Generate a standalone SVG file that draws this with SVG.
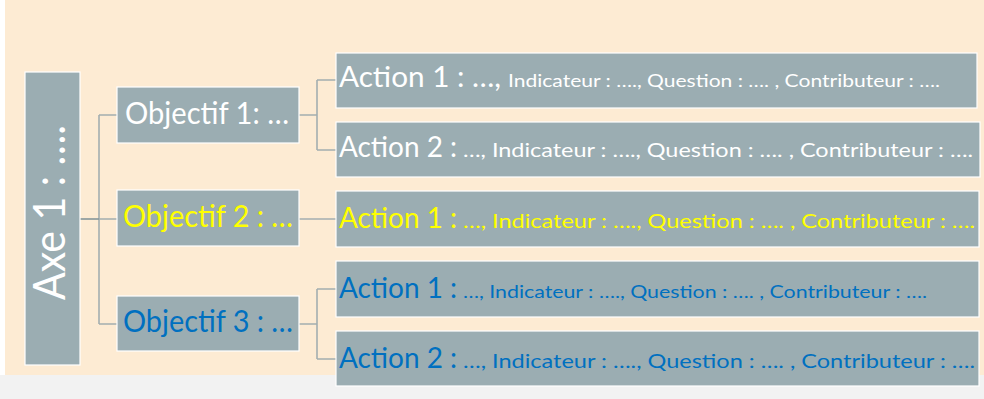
<svg xmlns="http://www.w3.org/2000/svg" width="984" height="399" viewBox="0 0 984 399">
<style>
.box{fill:#9BADB2;stroke:#FFFFFF;stroke-width:1.2}
.ln{fill:none;stroke:#A3AEB0;stroke-width:1.6}
.t{font-family:Lato,"Open Sans","Liberation Sans",sans-serif;}
.w{fill:#FFFFFF}
.y{fill:#FFFF00}
.b{fill:#0070C0}
</style>
<rect x="0" y="0" width="984" height="399" fill="#FFFFFF"/>
<rect x="5" y="0" width="979" height="375" fill="#FDEBD3"/>
<rect x="0" y="375" width="984" height="24" fill="#F2F2F2"/>
<g id="connectors">
<path class="ln" d="M99 115 V324 M99 115 H117 M99 324 H117 M99 219 H117"/>
<path d="M80 219 H99" fill="none" stroke="#86979A" stroke-width="1.6"/>
<path class="ln" d="M299 115 H317 M317 80 V150 M317 80 H336 M317 150 H336"/>
<path class="ln" d="M299 219 H336"/>
<path class="ln" d="M299 324 H317 M317 289 V359 M317 289 H336 M317 359 H336"/>
</g>
<g id="axe">
<rect class="box" x="25" y="72" width="55" height="293"/>
<text class="t w" transform="translate(65,300) rotate(-90)" font-size="44" textLength="175" lengthAdjust="spacingAndGlyphs">Axe 1 : ….</text>
</g>
<g id="obj1">
<rect class="box" x="117" y="87" width="182" height="56"/>
<text class="t w" x="125" y="124" font-size="30" textLength="164" lengthAdjust="spacingAndGlyphs">Objectif 1: …</text>
</g>
<g id="obj2">
<rect class="box" x="117" y="190" width="182" height="56"/>
<text class="t y" x="123" y="227" font-size="30" textLength="170" lengthAdjust="spacingAndGlyphs">Objectif 2 : …</text>
</g>
<g id="obj3">
<rect class="box" x="117" y="296" width="182" height="55"/>
<text class="t b" x="123" y="332" font-size="30" textLength="170" lengthAdjust="spacingAndGlyphs">Objectif 3 : …</text>
</g>
<g id="act1">
<rect class="box" x="336" y="53" width="641" height="55"/>
<text class="t w" y="87"><tspan x="339" font-size="28" textLength="162" lengthAdjust="spacingAndGlyphs">Action 1 : …,</tspan><tspan x="508" font-size="17" textLength="432" lengthAdjust="spacingAndGlyphs">Indicateur : …., Question : …. , Contributeur : ….</tspan></text>
</g>
<g id="act2">
<rect class="box" x="336" y="122" width="644" height="55"/>
<text class="t w" y="157"><tspan x="339" font-size="28" textLength="118" lengthAdjust="spacingAndGlyphs">Action 2 :</tspan><tspan x="463" font-size="19" textLength="510" lengthAdjust="spacingAndGlyphs">…, Indicateur : …., Question : …. , Contributeur : ….</tspan></text>
</g>
<g id="act3">
<rect class="box" x="336" y="191" width="643" height="56"/>
<text class="t y" y="228"><tspan x="339" font-size="28" textLength="118" lengthAdjust="spacingAndGlyphs">Action 1 :</tspan><tspan x="463" font-size="19" textLength="512" lengthAdjust="spacingAndGlyphs">…, Indicateur : …., Question : …. , Contributeur : ….</tspan></text>
</g>
<g id="act4">
<rect class="box" x="336" y="261" width="643" height="56"/>
<text class="t b" y="298"><tspan x="339" font-size="28" textLength="118" lengthAdjust="spacingAndGlyphs">Action 1 :</tspan><tspan x="463" font-size="17" textLength="464" lengthAdjust="spacingAndGlyphs">…, Indicateur : …., Question : …. , Contributeur : ….</tspan></text>
</g>
<g id="act5">
<rect class="box" x="336" y="331" width="643" height="55"/>
<text class="t b" y="368"><tspan x="339" font-size="28" textLength="118" lengthAdjust="spacingAndGlyphs">Action 2 :</tspan><tspan x="463" font-size="19" textLength="512" lengthAdjust="spacingAndGlyphs">…, Indicateur : …., Question : …. , Contributeur : ….</tspan></text>
</g>
</svg>
